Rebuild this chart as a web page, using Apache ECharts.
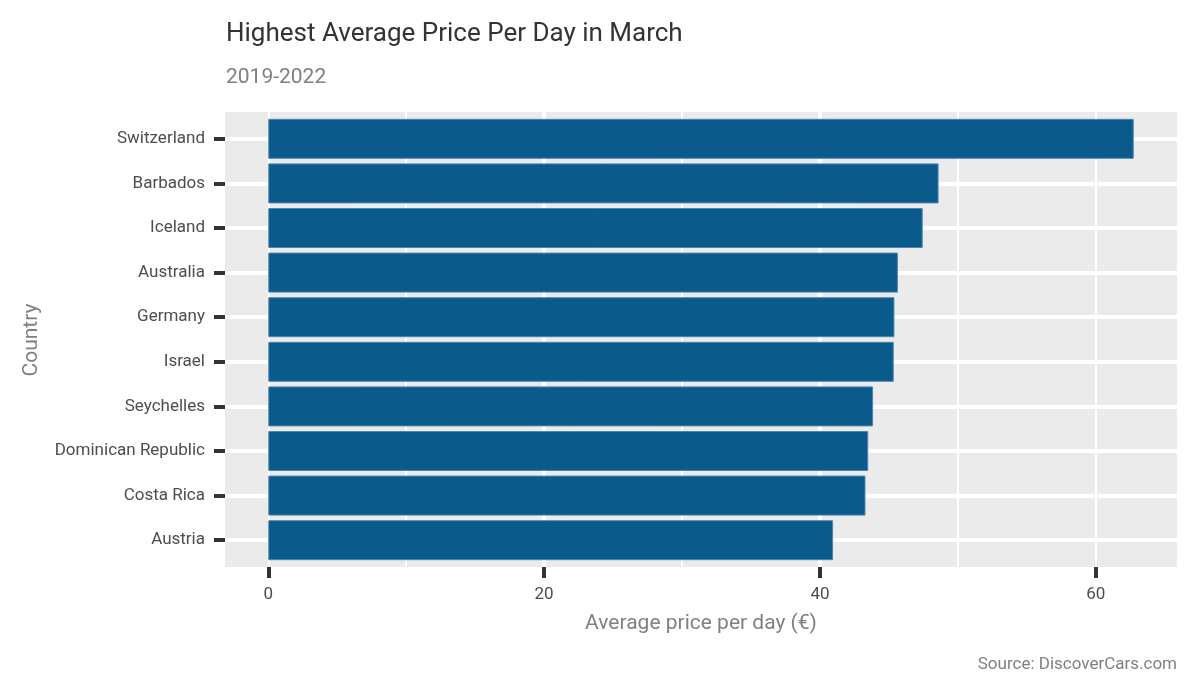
<!DOCTYPE html>
<html>
<head>
<meta charset="utf-8">
<script src="https://cdn.jsdelivr.net/npm/echarts@6/dist/echarts.min.js"></script>
<style>
html,body{margin:0;padding:0;background:#fff;}
#chart{width:1200px;height:696px;}
</style>
</head>
<body>
<div id="chart"></div>
<script>
const countries = ["Switzerland","Barbados","Iceland","Australia","Germany","Israel","Seychelles","Dominican Republic","Costa Rica","Austria"];
const prices = [62.75, 48.6, 47.45, 45.65, 45.4, 45.35, 43.85, 43.5, 43.3, 40.95];
const xTicks = [0, 20, 40, 60];
const titleText = "Highest Average Price Per Day in March";
const subtitleText = "2019-2022";
const xTitle = "Average price per day (€)";
const yTitle = "Country";
const caption = "Source: DiscoverCars.com";

const maxVal = Math.max(...prices);
const xMin = -0.05 * maxVal;
const xMax = maxVal * 1.05;
const FONT = "Roboto";

const chart = echarts.init(document.getElementById('chart'), null, {renderer: 'canvas'});
chart.setOption({
  animation: false,
  backgroundColor: '#ffffff',
  textStyle: {fontFamily: FONT},
  grid: [
    {left: 225, right: 23, top: 112, bottom: 129, show: true, backgroundColor: '#EBEBEB', borderWidth: 0},
    {left: 225, right: 23, top: 138.8, bottom: 155.8, show: false}
  ],
  xAxis: [
    {
      type: 'value', gridIndex: 0, position: 'bottom', min: xMin, max: xMax,
      minInterval: 20, maxInterval: 20, splitNumber: 3,
      axisLine: {show: false, onZero: false},
      axisTick: {show: true, customValues: xTicks, length: 11, lineStyle: {color: '#333333', width: 4}},
      axisLabel: {show: true, customValues: xTicks, margin: 19, color: '#4D4D4D', fontSize: 17, fontFamily: FONT},
      splitLine: {show: true, showMinLine: false, showMaxLine: false, lineStyle: {color: '#ffffff', width: 4}}
    },
    {
      type: 'value', gridIndex: 0, position: 'top', min: xMin, max: xMax,
      minInterval: 10, maxInterval: 10, splitNumber: 7,
      axisLine: {show: false, onZero: false}, axisTick: {show: false}, axisLabel: {show: false},
      splitLine: {show: true, showMinLine: false, showMaxLine: false, lineStyle: {color: '#ffffff', width: 2}}
    },
    {
      type: 'value', gridIndex: 1, min: xMin, max: xMax,
      axisLine: {show: false, onZero: false}, axisTick: {show: false}, axisLabel: {show: false}, splitLine: {show: false}
    }
  ],
  yAxis: [
    {type: 'value', gridIndex: 0, show: false, min: 0, max: 1, axisLine: {onZero: false}},
    {
      type: 'category', gridIndex: 1, data: countries, inverse: true, boundaryGap: false, position: 'left',
      axisLine: {show: false, onZero: false},
      axisTick: {show: true, length: 11, lineStyle: {color: '#333333', width: 4}},
      axisLabel: {margin: 20, color: '#4D4D4D', fontSize: 17, fontFamily: FONT, padding: [3, 0, 0, 0]},
      splitLine: {show: true, lineStyle: {color: '#ffffff', width: 4}}
    }
  ],
  series: [{
    type: 'bar', xAxisIndex: 2, yAxisIndex: 1, data: prices, barWidth: 40, clip: false,
    itemStyle: {color: '#0B5A8C', borderColor: '#4A86B6', borderWidth: 1},
    emphasis: {disabled: true}
  }],
  graphic: [
    {type: 'text', x: 226, y: 34, style: {text: titleText, font: '400 26px Roboto', fill: '#333333', verticalAlign: 'middle'}},
    {type: 'text', x: 226, y: 78, style: {text: subtitleText, font: '400 21px Roboto', fill: '#808080', verticalAlign: 'middle'}},
    {type: 'text', x: 701, y: 624, style: {text: xTitle, font: '400 21px Roboto', fill: '#808080', align: 'center', verticalAlign: 'middle'}},
    {type: 'text', x: 32, y: 340, rotation: Math.PI / 2, style: {text: yTitle, font: '400 21px Roboto', fill: '#808080', align: 'center', verticalAlign: 'middle'}},
    {type: 'text', x: 1177, y: 665, style: {text: caption, font: '400 17px Roboto', fill: '#808080', align: 'right', verticalAlign: 'middle'}}
  ]
});
</script>
</body>
</html>
